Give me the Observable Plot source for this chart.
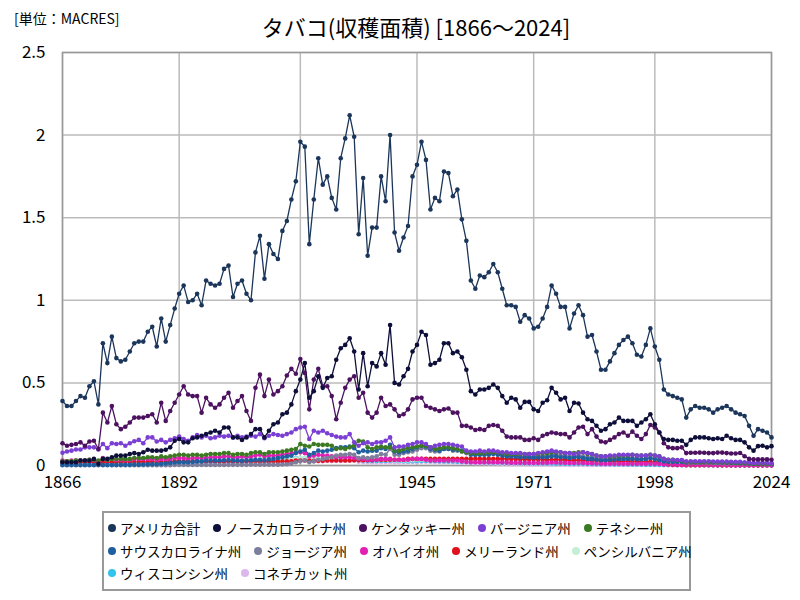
<!DOCTYPE html>
<html><head><meta charset="utf-8">
<script src="https://cdn.jsdelivr.net/npm/d3@7"></script>
<script src="https://cdn.jsdelivr.net/npm/@observablehq/plot@0.6"></script>
<style>
body{margin:0;background:#fff;font-family:"Noto Sans CJK JP",sans-serif;color:#000;}
#wrap{position:relative;width:800px;height:600px;overflow:hidden;}
#unit{position:absolute;left:14px;top:8px;font-size:14px;line-height:20px;white-space:nowrap;}
#title{position:absolute;left:0;top:11px;width:832px;text-align:center;font-size:22px;line-height:30px;white-space:nowrap;}
#chart{position:absolute;left:0;top:0;}
#legend{position:absolute;left:102px;top:511px;width:589px;height:80px;border:2px solid #999;box-sizing:border-box;padding:4px 4px;font-size:13.5px;}
.row{display:flex;height:22.5px;align-items:center;white-space:nowrap;}
.item{display:flex;align-items:center;margin-right:13px;}
.sw{display:inline-block;width:8px;height:8px;border-radius:50%;margin-right:4px;}
</style></head>
<body><div id="wrap">
<div id="unit">[単位：MACRES]</div>
<div id="title">タバコ(収穫面積) [1866～2024]</div>
<div id="chart"></div>
<div id="legend"></div>
</div>
<script>
const firstYear = 1866, lastYear = 2024;
const xTicks = [1866, 1892, 1919, 1945, 1971, 1998, 2024];
const yTicks = [0, 0.5, 1, 1.5, 2, 2.5];
const seriesNames = ["アメリカ合計","ノースカロライナ州","ケンタッキー州","バージニア州","テネシー州","サウスカロライナ州","ジョージア州","オハイオ州","メリーランド州","ペンシルバニア州","ウィスコンシン州","コネチカット州"];
const seriesColors = ["#1b365a","#0e0e3a","#4c1260","#7b3fd3","#3b7a22","#1f5fa0","#7d7d9c","#e020b2","#e0101c","#c4efd6","#33c2ea","#dab8ec"];
const legendRows = [[0,1,2,3,4],[5,6,7,8,9],[10,11]];

const usTotal = [0.39,0.36,0.36,0.39,
0.42,0.41,0.48,0.51,0.37,0.74,0.62,0.78,0.65,0.63,
0.64,0.69,0.74,0.75,0.75,0.81,0.84,0.72,0.89,0.75,
0.85,0.95,1.04,1.09,0.99,1.00,1.04,0.97,1.12,1.10,
1.09,1.10,1.19,1.21,1.02,1.10,1.12,1.04,1.00,1.29,
1.39,1.13,1.34,1.28,1.25,1.42,1.48,1.61,1.72,1.96,
1.93,1.34,1.61,1.86,1.70,1.75,1.62,1.55,1.86,1.98,
2.12,1.99,1.40,1.74,1.27,1.44,1.44,1.75,1.60,2.00,
1.41,1.30,1.38,1.45,1.75,1.82,1.96,1.85,1.55,1.62,
1.60,1.78,1.77,1.63,1.67,1.49,1.36,1.12,1.07,1.15,
1.14,1.17,1.22,1.17,1.07,0.97,0.97,0.96,0.87,0.91,
0.89,0.83,0.84,0.89,0.96,1.09,1.04,0.96,0.96,0.83,
0.92,0.97,0.91,0.78,0.79,0.69,0.58,0.58,0.63,0.68,
0.73,0.76,0.78,0.74,0.67,0.66,0.73,0.83,0.72,0.64,
0.46,0.43,0.42,0.41,0.40,0.29,0.34,0.36,0.35,0.35,
0.34,0.32,0.34,0.35,0.36,0.34,0.32,0.31,0.30,0.24,
0.18,0.22,0.21,0.20,0.17];

const northCarolina = [0.02,0.02,0.02,0.02,
0.03,0.03,0.03,0.04,0.01,0.04,0.04,0.05,0.06,0.06,
0.06,0.07,0.075,0.07,0.08,0.095,0.09,0.09,0.09,0.095,
0.11,0.15,0.16,0.14,0.14,0.165,0.17,0.18,0.19,0.20,
0.21,0.20,0.23,0.23,0.17,0.17,0.155,0.17,0.19,0.22,
0.22,0.17,0.21,0.25,0.26,0.31,0.32,0.37,0.45,0.52,
0.62,0.41,0.45,0.54,0.47,0.53,0.54,0.64,0.71,0.73,
0.77,0.69,0.46,0.68,0.48,0.62,0.60,0.68,0.61,0.85,
0.50,0.49,0.54,0.585,0.69,0.73,0.81,0.79,0.61,0.62,
0.64,0.74,0.74,0.68,0.69,0.655,0.58,0.45,0.43,0.46,
0.46,0.47,0.49,0.47,0.42,0.38,0.41,0.40,0.35,0.385,
0.385,0.34,0.33,0.38,0.395,0.47,0.44,0.40,0.41,0.33,
0.38,0.375,0.32,0.28,0.27,0.24,0.21,0.22,0.25,0.26,
0.29,0.27,0.27,0.27,0.24,0.26,0.28,0.31,0.25,0.20,
0.16,0.155,0.155,0.15,0.15,0.125,0.155,0.17,0.17,0.17,
0.165,0.16,0.165,0.16,0.18,0.165,0.155,0.155,0.14,0.11,
0.09,0.117,0.12,0.11,0.117];

const kentucky = [0.135,0.12,0.125,0.13,
0.14,0.12,0.145,0.15,0.10,0.32,0.26,0.36,0.25,0.22,
0.235,0.26,0.29,0.29,0.29,0.30,0.31,0.26,0.38,0.27,
0.33,0.38,0.43,0.48,0.43,0.42,0.42,0.32,0.41,0.37,
0.35,0.37,0.41,0.44,0.35,0.39,0.42,0.33,0.27,0.47,
0.55,0.42,0.52,0.43,0.45,0.48,0.545,0.585,0.555,0.645,
0.56,0.34,0.52,0.585,0.48,0.48,0.42,0.28,0.38,0.47,
0.52,0.54,0.41,0.44,0.32,0.29,0.32,0.41,0.36,0.37,
0.34,0.30,0.31,0.34,0.40,0.41,0.41,0.36,0.35,0.34,
0.33,0.34,0.345,0.32,0.32,0.24,0.24,0.23,0.215,0.22,
0.215,0.24,0.245,0.24,0.21,0.175,0.17,0.17,0.17,0.155,
0.155,0.165,0.155,0.18,0.19,0.20,0.195,0.19,0.19,0.17,
0.20,0.23,0.235,0.19,0.22,0.175,0.145,0.14,0.155,0.17,
0.19,0.20,0.18,0.205,0.18,0.16,0.19,0.245,0.23,0.20,
0.135,0.11,0.105,0.105,0.11,0.075,0.077,0.077,0.078,0.077,
0.075,0.075,0.078,0.078,0.075,0.073,0.073,0.076,0.056,0.04,
0.037,0.037,0.037,0.037,0.035];

const virginia = [0.077,0.085,0.09,0.097,
0.097,0.11,0.11,0.11,0.097,0.13,0.105,0.135,0.13,0.135,
0.12,0.135,0.147,0.155,0.135,0.17,0.17,0.145,0.155,0.14,
0.155,0.165,0.175,0.16,0.15,0.17,0.185,0.17,0.18,0.165,
0.17,0.18,0.175,0.18,0.17,0.18,0.17,0.175,0.18,0.175,
0.19,0.165,0.18,0.19,0.185,0.18,0.19,0.20,0.22,0.23,
0.235,0.16,0.21,0.20,0.21,0.195,0.185,0.175,0.17,0.17,
0.19,0.14,0.12,0.135,0.14,0.13,0.14,0.14,0.15,0.17,
0.11,0.115,0.115,0.125,0.13,0.14,0.14,0.13,0.11,0.12,
0.125,0.13,0.13,0.125,0.12,0.115,0.09,0.085,0.085,0.09,
0.085,0.09,0.09,0.085,0.08,0.08,0.075,0.075,0.075,0.07,
0.07,0.07,0.075,0.08,0.085,0.09,0.085,0.08,0.075,0.075,
0.07,0.075,0.08,0.075,0.07,0.06,0.055,0.055,0.06,0.06,
0.065,0.065,0.065,0.065,0.06,0.06,0.06,0.065,0.06,0.055,
0.04,0.035,0.035,0.033,0.033,0.025,0.025,0.025,0.025,0.025,
0.025,0.024,0.024,0.024,0.024,0.023,0.022,0.022,0.02,0.018,
0.015,0.016,0.016,0.015,0.013];

const tennessee = [0.025,0.025,0.025,0.03,
0.03,0.03,0.035,0.035,0.03,0.04,0.035,0.04,0.04,0.04,
0.04,0.04,0.045,0.045,0.045,0.05,0.05,0.045,0.055,0.05,
0.055,0.06,0.065,0.065,0.06,0.065,0.065,0.06,0.065,0.07,
0.07,0.07,0.075,0.075,0.065,0.07,0.07,0.065,0.075,0.08,
0.08,0.07,0.08,0.08,0.08,0.085,0.09,0.095,0.10,0.13,
0.12,0.115,0.13,0.125,0.125,0.125,0.12,0.10,0.105,0.10,
0.11,0.12,0.15,0.145,0.11,0.10,0.11,0.115,0.11,0.11,
0.09,0.09,0.10,0.105,0.11,0.115,0.12,0.12,0.11,0.10,
0.105,0.11,0.11,0.105,0.10,0.085,0.08,0.075,0.075,0.075,
0.075,0.08,0.08,0.08,0.075,0.07,0.07,0.07,0.07,0.07,
0.07,0.07,0.07,0.075,0.075,0.08,0.08,0.08,0.075,0.075,
0.075,0.08,0.08,0.07,0.07,0.06,0.055,0.055,0.055,0.055,
0.06,0.06,0.06,0.065,0.06,0.06,0.06,0.065,0.06,0.055,
0.04,0.035,0.035,0.03,0.03,0.02,0.02,0.02,0.02,0.02,
0.02,0.02,0.02,0.02,0.02,0.018,0.017,0.016,0.015,0.013,
0.01,0.011,0.01,0.01,0.009];

const southCarolina = [0.003,0.003,0.003,0.003,
0.003,0.003,0.003,0.003,0.003,0.003,0.003,0.003,0.003,0.004,
0.004,0.004,0.005,0.005,0.006,0.007,0.008,0.008,0.01,0.012,
0.015,0.018,0.02,0.02,0.02,0.022,0.025,0.025,0.03,0.03,
0.03,0.03,0.032,0.033,0.03,0.03,0.028,0.03,0.032,0.035,
0.035,0.032,0.037,0.04,0.045,0.05,0.055,0.06,0.075,0.085,
0.095,0.065,0.075,0.09,0.085,0.09,0.095,0.105,0.11,0.11,
0.115,0.105,0.08,0.09,0.085,0.09,0.09,0.105,0.10,0.125,
0.085,0.08,0.085,0.09,0.10,0.11,0.12,0.115,0.10,0.095,
0.09,0.10,0.10,0.095,0.095,0.09,0.08,0.065,0.065,0.065,
0.065,0.065,0.07,0.065,0.06,0.055,0.055,0.055,0.05,0.05,
0.05,0.048,0.048,0.05,0.05,0.055,0.055,0.05,0.05,0.045,
0.05,0.05,0.045,0.04,0.04,0.035,0.032,0.032,0.035,0.035,
0.04,0.04,0.04,0.04,0.038,0.038,0.04,0.045,0.038,0.032,
0.025,0.022,0.022,0.022,0.022,0.018,0.02,0.02,0.02,0.02,
0.02,0.02,0.02,0.018,0.017,0.016,0.015,0.014,0.013,0.012,
0.01,0.011,0.011,0.01,0.009];

const georgia = [0.002,0.002,0.002,0.002,
0.002,0.002,0.002,0.002,0.002,0.002,0.002,0.002,0.002,0.002,
0.002,0.002,0.002,0.002,0.002,0.002,0.002,0.002,0.002,0.002,
0.002,0.003,0.003,0.003,0.003,0.003,0.003,0.003,0.003,0.003,
0.003,0.003,0.003,0.004,0.004,0.004,0.004,0.004,0.005,0.005,
0.005,0.005,0.005,0.005,0.005,0.006,0.008,0.012,0.02,0.025,
0.03,0.02,0.025,0.035,0.04,0.045,0.05,0.06,0.065,0.065,
0.07,0.065,0.045,0.05,0.045,0.05,0.055,0.07,0.065,0.10,
0.065,0.065,0.075,0.08,0.085,0.095,0.105,0.105,0.09,0.085,
0.085,0.10,0.10,0.09,0.09,0.085,0.075,0.07,0.065,0.07,
0.07,0.07,0.075,0.07,0.065,0.06,0.06,0.06,0.055,0.055,
0.055,0.055,0.055,0.06,0.06,0.065,0.065,0.06,0.06,0.055,
0.06,0.06,0.055,0.05,0.05,0.045,0.04,0.04,0.04,0.042,
0.045,0.045,0.045,0.045,0.042,0.04,0.04,0.045,0.042,0.036,
0.03,0.028,0.027,0.025,0.025,0.018,0.016,0.016,0.016,0.016,
0.015,0.014,0.014,0.014,0.013,0.013,0.012,0.012,0.011,0.01,
0.009,0.009,0.009,0.008,0.008];

const ohio = [0.03,0.025,0.03,0.03,
0.03,0.03,0.035,0.035,0.025,0.045,0.035,0.04,0.035,0.035,
0.035,0.035,0.04,0.04,0.04,0.04,0.04,0.035,0.04,0.04,
0.04,0.045,0.045,0.045,0.04,0.045,0.045,0.045,0.045,0.05,
0.05,0.05,0.055,0.055,0.05,0.05,0.055,0.05,0.055,0.06,
0.065,0.055,0.06,0.06,0.06,0.065,0.07,0.075,0.08,0.08,
0.075,0.055,0.06,0.065,0.06,0.06,0.055,0.05,0.05,0.05,
0.05,0.045,0.04,0.04,0.035,0.035,0.035,0.04,0.04,0.04,
0.035,0.035,0.035,0.035,0.04,0.04,0.04,0.035,0.03,0.03,
0.03,0.03,0.03,0.03,0.03,0.025,0.022,0.02,0.02,0.02,
0.02,0.02,0.02,0.02,0.02,0.018,0.017,0.017,0.017,0.016,
0.016,0.016,0.016,0.017,0.017,0.018,0.018,0.017,0.016,0.015,
0.015,0.015,0.015,0.013,0.013,0.012,0.011,0.011,0.011,0.011,
0.011,0.011,0.011,0.011,0.011,0.011,0.011,0.011,0.01,0.009,
0.007,0.006,0.006,0.006,0.005,0.004,0.004,0.004,0.004,0.004,
0.003,0.003,0.003,0.003,0.003,0.002,0.002,0.002,0.002,0.002,
0.001,0.001,0.001,0.001,0.001];

const maryland = [0.02,0.02,0.02,0.02,
0.02,0.02,0.02,0.02,0.02,0.02,0.02,0.02,0.02,0.022,
0.022,0.022,0.022,0.022,0.022,0.022,0.022,0.022,0.022,0.022,
0.025,0.025,0.025,0.025,0.025,0.025,0.025,0.025,0.025,0.025,
0.025,0.025,0.025,0.025,0.025,0.025,0.025,0.025,0.025,0.025,
0.025,0.025,0.025,0.025,0.025,0.025,0.025,0.025,0.03,0.03,
0.03,0.028,0.028,0.028,0.028,0.03,0.03,0.03,0.03,0.03,
0.03,0.032,0.032,0.032,0.032,0.032,0.035,0.035,0.035,0.035,
0.035,0.035,0.035,0.04,0.04,0.04,0.04,0.04,0.04,0.04,
0.04,0.04,0.04,0.04,0.04,0.04,0.04,0.04,0.04,0.04,
0.04,0.04,0.04,0.04,0.04,0.04,0.04,0.04,0.038,0.038,
0.038,0.038,0.038,0.035,0.035,0.035,0.035,0.035,0.035,0.032,
0.032,0.032,0.03,0.03,0.03,0.028,0.028,0.028,0.028,0.026,
0.026,0.025,0.025,0.025,0.024,0.022,0.022,0.022,0.02,0.015,
0.01,0.006,0.004,0.003,0.003,0.002,0.002,0.002,0.002,0.002,
0.002,0.002,0.001,0.001,0.001,0.001,0.001,0.001,0.001,0.001,
0.001,0.001,0.001,0.001,0.001];

const pennsylvania = [0.01,0.01,0.012,0.012,
0.012,0.012,0.013,0.013,0.013,0.015,0.015,0.015,0.018,0.018,
0.02,0.02,0.02,0.022,0.022,0.022,0.022,0.025,0.025,0.025,
0.028,0.028,0.028,0.028,0.028,0.03,0.03,0.03,0.03,0.03,
0.032,0.032,0.032,0.035,0.035,0.035,0.035,0.035,0.035,0.04,
0.04,0.04,0.04,0.04,0.04,0.04,0.04,0.04,0.042,0.045,
0.045,0.04,0.04,0.04,0.04,0.04,0.04,0.04,0.04,0.04,
0.04,0.04,0.038,0.035,0.035,0.035,0.035,0.035,0.035,0.035,
0.03,0.03,0.03,0.03,0.032,0.035,0.035,0.035,0.035,0.035,
0.033,0.033,0.033,0.032,0.03,0.03,0.028,0.028,0.028,0.028,
0.026,0.026,0.025,0.025,0.024,0.023,0.023,0.022,0.022,0.022,
0.021,0.021,0.021,0.021,0.021,0.02,0.02,0.02,0.02,0.02,
0.02,0.02,0.02,0.02,0.02,0.019,0.018,0.018,0.018,0.018,
0.018,0.018,0.018,0.018,0.018,0.018,0.017,0.017,0.016,0.015,
0.012,0.011,0.011,0.01,0.01,0.009,0.009,0.009,0.009,0.009,
0.008,0.008,0.008,0.008,0.008,0.008,0.008,0.007,0.007,0.007,
0.007,0.007,0.006,0.006,0.006];

const wisconsin = [0.003,0.003,0.004,0.004,
0.004,0.005,0.005,0.005,0.005,0.006,0.006,0.007,0.007,0.008,
0.008,0.009,0.01,0.01,0.011,0.012,0.013,0.013,0.014,0.015,
0.016,0.017,0.018,0.018,0.019,0.02,0.02,0.021,0.022,0.023,
0.024,0.025,0.027,0.028,0.03,0.03,0.032,0.033,0.034,0.035,
0.036,0.037,0.038,0.04,0.04,0.04,0.042,0.045,0.045,0.045,
0.045,0.04,0.04,0.04,0.04,0.038,0.035,0.035,0.035,0.035,
0.035,0.035,0.033,0.03,0.028,0.027,0.027,0.028,0.028,0.03,
0.028,0.027,0.026,0.025,0.026,0.027,0.028,0.028,0.027,0.027,
0.025,0.025,0.024,0.024,0.023,0.022,0.021,0.02,0.02,0.02,
0.019,0.019,0.018,0.018,0.017,0.016,0.015,0.015,0.014,0.014,
0.013,0.013,0.013,0.012,0.012,0.012,0.011,0.011,0.011,0.01,
0.01,0.01,0.01,0.009,0.009,0.008,0.008,0.008,0.008,0.007,
0.007,0.007,0.006,0.006,0.006,0.006,0.005,0.005,0.005,0.004,
0.003,0.003,0.003,0.002,0.002,0.002,0.002,0.002,0.002,0.002,
0.001,0.001,0.001,0.001,0.001,0.001,0.001,0.001,0.001,0.001,
0.001,0.001,0.001,0.001,0.001];

const connecticut = [0.008,0.008,0.008,0.008,
0.008,0.008,0.009,0.009,0.009,0.01,0.01,0.01,0.01,0.01,
0.01,0.01,0.01,0.01,0.01,0.011,0.011,0.011,0.011,0.011,
0.011,0.012,0.012,0.012,0.012,0.013,0.013,0.013,0.013,0.014,
0.014,0.014,0.015,0.015,0.015,0.016,0.016,0.017,0.017,0.018,
0.018,0.018,0.019,0.02,0.02,0.021,0.022,0.024,0.025,0.03,
0.032,0.025,0.025,0.026,0.026,0.027,0.027,0.028,0.028,0.029,
0.03,0.028,0.022,0.02,0.018,0.018,0.018,0.02,0.02,0.02,
0.018,0.018,0.019,0.02,0.02,0.02,0.022,0.022,0.021,0.02,
0.02,0.02,0.02,0.019,0.018,0.017,0.016,0.015,0.014,0.014,
0.013,0.012,0.012,0.011,0.01,0.01,0.009,0.009,0.008,0.008,
0.007,0.007,0.007,0.006,0.006,0.006,0.005,0.005,0.005,0.004,
0.004,0.004,0.004,0.004,0.004,0.003,0.003,0.003,0.003,0.003,
0.003,0.003,0.003,0.003,0.003,0.003,0.003,0.003,0.003,0.003,
0.002,0.002,0.002,0.002,0.002,0.002,0.002,0.002,0.002,0.002,
0.002,0.002,0.002,0.002,0.002,0.002,0.002,0.002,0.002,0.002,
0.002,0.002,0.002,0.002,0.002];

const seriesValues = [usTotal, northCarolina, kentucky, virginia, tennessee, southCarolina, georgia, ohio, maryland, pennsylvania, wisconsin, connecticut];
const years = d3.range(firstYear, lastYear + 1);

const data = [];
for (let s = seriesValues.length - 1; s >= 0; s--) {
  seriesValues[s].forEach((v, i) => data.push({year: years[i], value: v, name: seriesNames[s]}));
}

const chart = Plot.plot({
  width: 800, height: 500,
  marginTop: 52, marginBottom: 35, marginLeft: 62, marginRight: 29,
  style: {fontFamily: "'Noto Sans CJK JP', sans-serif", fontSize: "17px", color: "#000", background: "transparent"},
  x: {domain: [firstYear, lastYear], label: null},
  y: {domain: [0, 2.5], label: null},
  color: {domain: seriesNames, range: seriesColors},
  marks: [
    Plot.gridX(xTicks, {stroke: "#bbb", strokeOpacity: 1, strokeWidth: 1.5}),
    Plot.gridY(yTicks, {stroke: "#bbb", strokeOpacity: 1, strokeWidth: 1.5}),
    Plot.frame({stroke: "#999", strokeWidth: 1.5}),
    Plot.axisX(xTicks, {tickSize: 0, tickPadding: 10, tickFormat: d => String(d), fontSize: 17, label: null}),
    Plot.axisY(yTicks, {tickSize: 0, tickPadding: 17, tickFormat: d => String(d), fontSize: 17, label: null}),
    Plot.line(data, {x: "year", y: "value", z: "name", stroke: "name", strokeWidth: 1.3}),
    Plot.dot(data, {x: "year", y: "value", fill: "name", r: 2.3})
  ]
});
document.getElementById("chart").appendChild(chart);

const legend = document.getElementById("legend");
legendRows.forEach(row => {
  const r = document.createElement("div");
  r.className = "row";
  row.forEach(i => {
    const it = document.createElement("span");
    it.className = "item";
    const sw = document.createElement("span");
    sw.className = "sw";
    sw.style.background = seriesColors[i];
    it.appendChild(sw);
    it.appendChild(document.createTextNode(seriesNames[i]));
    r.appendChild(it);
  });
  legend.appendChild(r);
});
</script>
</body></html>
